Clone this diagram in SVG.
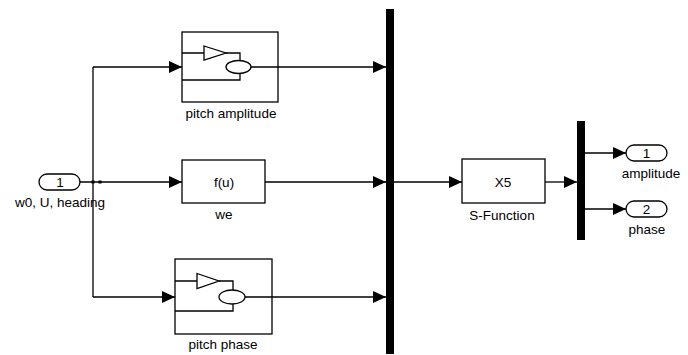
<svg xmlns="http://www.w3.org/2000/svg" width="688" height="355" viewBox="0 0 688 355">
<defs>
<marker id="ah" markerUnits="userSpaceOnUse" markerWidth="13" markerHeight="12" refX="13" refY="6" orient="auto">
<path d="M0,0 L13,6 L0,12 Z" fill="#000"/>
</marker>
</defs>
<style>
.blk{fill:#fff;stroke:#000;stroke-width:1.3}
.ln{fill:none;stroke:#000;stroke-width:1.3}
.cn{fill:none;stroke:#000;stroke-width:1.3;marker-end:url(#ah)}
.bus{fill:#000}
text{font-family:"Liberation Sans",Arial,sans-serif;font-size:13.5px;fill:#000;text-anchor:middle}
</style>
<rect width="688" height="355" fill="#fff"/>
<g id="connectors">
<path class="cn" d="M80,182 H182"/>
<path class="ln" d="M93,67 V297"/>
<path class="cn" d="M93,67 H182"/>
<path class="cn" d="M93,297 H175"/>
<path class="cn" d="M278,67 H386"/>
<path class="cn" d="M265,182 H386"/>
<path class="cn" d="M272,297 H386"/>
<path class="cn" d="M394,182 H462"/>
<path class="cn" d="M545,182 H577"/>
<path class="cn" d="M585,153 H626"/>
<path class="cn" d="M585,209 H626"/>
<rect x="91.5" y="180.5" width="3" height="3" fill="#000"/>
<rect x="98.5" y="180.5" width="3" height="3" fill="#000"/>
</g>
<g id="in1">
<rect class="blk" x="39" y="174" width="41" height="16" rx="8" ry="8"/>
<text x="60" y="187">1</text>
<text x="60" y="207">w0, U, heading</text>
</g>
<g id="pitch_amplitude">
<rect class="blk" x="182" y="32" width="96" height="70"/>
<path class="ln" d="M182,53 H204 M226,53 H240 V60.5 M240,73.5 V80 H182 M251,67 H278"/>
<path class="ln" d="M204,46 L226,53 L204,60 Z"/>
<ellipse class="ln" cx="238.5" cy="67" rx="12.5" ry="6.5"/>
<text x="231" y="118">pitch amplitude</text>
</g>
<g id="we">
<rect class="blk" x="182" y="160" width="83" height="43"/>
<text x="224" y="187">f(u)</text>
<text x="224" y="219">we</text>
</g>
<g id="pitch_phase">
<rect class="blk" x="175" y="259" width="97" height="75"/>
<path class="ln" d="M175,281 H197 M219,281 H233 V290 M233,304 V311 H175 M245,297 H272"/>
<path class="ln" d="M197,273.5 L219,281 L197,288.5 Z"/>
<ellipse class="ln" cx="232" cy="297" rx="13" ry="7"/>
<text x="223" y="349">pitch phase</text>
</g>
<g id="mux1">
<rect class="bus" x="386" y="9" width="8" height="345"/>
</g>
<g id="sfunction">
<rect class="blk" x="462" y="159" width="83" height="44"/>
<text x="503" y="187">X5</text>
<text x="502" y="220">S-Function</text>
</g>
<g id="mux2">
<rect class="bus" x="577" y="121" width="8" height="119"/>
</g>
<g id="out1">
<rect class="blk" x="626" y="145" width="41" height="16" rx="8" ry="8"/>
<text x="646.5" y="158">1</text>
<text x="651" y="178">amplitude</text>
</g>
<g id="out2">
<rect class="blk" x="626" y="201" width="41" height="16" rx="8" ry="8"/>
<text x="646.5" y="214">2</text>
<text x="647" y="234">phase</text>
</g>
</svg>
